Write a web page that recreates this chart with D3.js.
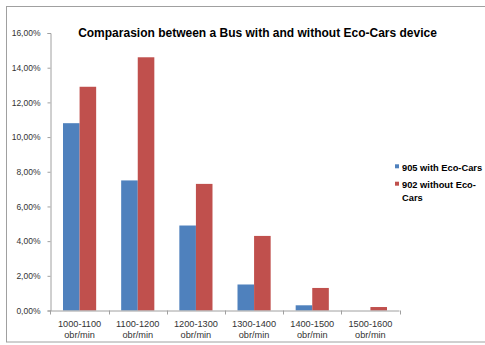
<!DOCTYPE html>
<html>
<head>
<meta charset="utf-8">
<script src="https://cdn.jsdelivr.net/npm/d3@7"></script>
<style>
html,body{margin:0;padding:0;background:#fff;}
svg{display:block;}
</style>
</head>
<body>
<svg id="chart" width="485" height="345"></svg>
<script>
const categories = ["1000-1100 obr/min","1100-1200 obr/min","1200-1300 obr/min","1300-1400 obr/min","1400-1500 obr/min","1500-1600 obr/min"];
const seriesNames = ["905 with Eco-Cars","902 without Eco-Cars"];
const withEco = [0.108,0.075,0.049,0.015,0.003,0.0];
const withoutEco = [0.129,0.146,0.073,0.043,0.013,0.002];
const yTicks = [0,0.02,0.04,0.06,0.08,0.10,0.12,0.14,0.16];
const colors = ["#4F81BD","#C0504D"];
const titleText = "Comparasion between a Bus with and without Eco-Cars device";

(function(){
const svg = d3.select("#chart");
const font = "'Liberation Sans', Arial, sans-serif";

// frame
svg.append("rect").attr("x",6.5).attr("y",6.5).attr("width",490).attr("height",335.5)
  .attr("fill","#fff").attr("stroke","#a0a0a0").attr("stroke-width",1);

const pLeft = 50.5, pRight = 399.5, pTop = 33, pBottom = 310.5;
const y = d3.scaleLinear().domain([0,0.16]).range([pBottom, pTop]);
const x = d3.scaleBand().domain(categories).range([pLeft,pRight]).paddingInner(0.43).paddingOuter(0.215);
const xs = d3.scaleBand().domain(seriesNames).range([0,x.bandwidth()]).padding(0);

const loc = d3.formatLocale({decimal:",",thousands:".",grouping:[3],currency:["",""]});
const fmt = loc.format(".2%");

// bars
const data = [withEco, withoutEco];
data.forEach((vals, si) => {
  svg.append("g").selectAll("rect").data(vals).join("rect")
    .attr("x",(d,i)=>x(categories[i]) + xs(seriesNames[si]))
    .attr("y",d=>y(d))
    .attr("width",xs.bandwidth())
    .attr("height",d=>y(0)-y(d))
    .attr("fill",colors[si]);
});

// y axis
const yAxis = svg.append("g").attr("transform",`translate(${pLeft},0)`)
  .call(d3.axisLeft(y).tickValues(yTicks).tickFormat(fmt).tickSize(3).tickPadding(7));
yAxis.select(".domain").attr("stroke","#a0a0a0");
yAxis.selectAll(".tick line").attr("stroke","#a0a0a0");
yAxis.selectAll("text").attr("font-family",font).attr("font-size","8.5px").attr("fill","#333");

// x axis
const xAxis = svg.append("g").attr("transform",`translate(0,${pBottom})`)
  .call(d3.axisBottom(x).tickSize(0).tickFormat(""));
xAxis.select(".domain").attr("stroke","#a0a0a0").attr("d",`M${pLeft},0.5H${pRight}`);
const bounds = categories.map(c => x(c) - x.step()*x.paddingInner()/2).concat([pRight]);
xAxis.selectAll(".bt").data(bounds).join("line").attr("class","bt")
  .attr("x1",d=>Math.round(d)+0.5).attr("x2",d=>Math.round(d)+0.5)
  .attr("y1",0).attr("y2",4).attr("stroke","#a0a0a0");
categories.forEach(c => {
  const parts = c.split(" ");
  const cx = x(c)+x.bandwidth()/2;
  const t = xAxis.append("text").attr("text-anchor","middle")
    .attr("font-family",font).attr("font-size","9.2px").attr("fill","#333");
  t.append("tspan").attr("x",cx).attr("y",16).text(parts[0]);
  t.append("tspan").attr("x",cx).attr("y",27).text(parts[1]);
});

// title
svg.append("text").attr("x",257.5).attr("y",36.6).attr("text-anchor","middle")
  .attr("font-family",font).attr("font-weight","bold").attr("font-size","12px").attr("fill","#000")
  .text(titleText);

// legend
const lg = svg.append("g");
const legendLines = [["905 with Eco-Cars"],["902 without Eco-","Cars"]];
const legY = [164.3,181.7];
seriesNames.forEach((s,i)=>{
  lg.append("rect").attr("x",395).attr("y",legY[i]).attr("width",4).attr("height",4).attr("fill",colors[i]);
  legendLines[i].forEach((ln,j)=>{
    lg.append("text").attr("x",402).attr("y",legY[i]+6.3+j*13.4)
      .attr("font-family",font).attr("font-weight","bold").attr("font-size","9.3px").attr("fill","#000")
      .text(ln);
  });
});
})();
</script>
</body>
</html>
